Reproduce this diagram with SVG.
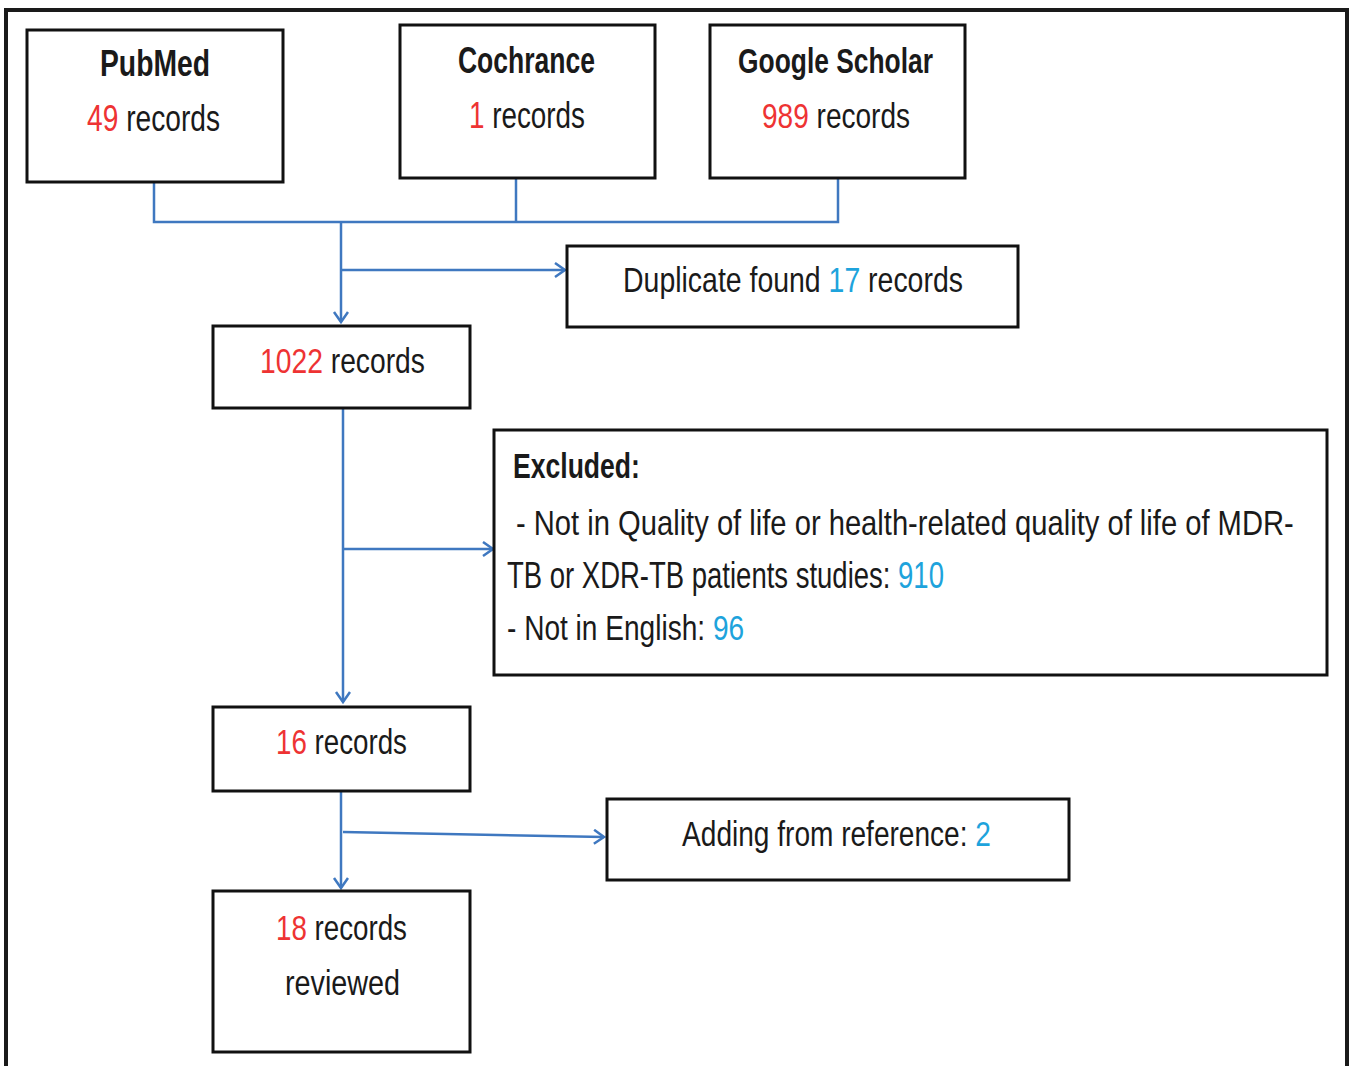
<svg xmlns="http://www.w3.org/2000/svg" width="1352" height="1066" viewBox="0 0 1352 1066">
<style>
.box{fill:#fff;stroke:#111;stroke-width:3}
.t{font-family:"Liberation Sans",Arial,sans-serif;font-size:36px;fill:#1a1a1a}
.m{text-anchor:middle}
.b{font-weight:bold}
.r{fill:#ee3333}
.c{fill:#1ea3dc}
.ln{fill:none;stroke:#3f78c0;stroke-width:2.5}
</style>
<defs>
<marker id="ah" markerUnits="userSpaceOnUse" markerWidth="20" markerHeight="20" refX="12" refY="8" orient="auto">
<path d="M2,1 L12,8 L2,15" fill="none" stroke="#3f78c0" stroke-width="2.5"/>
</marker>
</defs>
<rect x="0" y="0" width="1352" height="1066" fill="#fff"/>
<rect x="6" y="10" width="1341" height="1070" fill="none" stroke="#1a1a1a" stroke-width="4"/>
<g id="connectors">
<polyline class="ln" points="154,172 154,222 838,222 838,175"/>
<line class="ln" x1="516" y1="178" x2="516" y2="222"/>
<line class="ln" x1="341" y1="222" x2="341" y2="322" marker-end="url(#ah)"/>
<line class="ln" x1="341" y1="270" x2="565" y2="270" marker-end="url(#ah)"/>
<line class="ln" x1="343" y1="408" x2="343" y2="702" marker-end="url(#ah)"/>
<line class="ln" x1="343" y1="549" x2="493" y2="549" marker-end="url(#ah)"/>
<line class="ln" x1="341" y1="791" x2="341" y2="888" marker-end="url(#ah)"/>
<line class="ln" x1="343" y1="832" x2="604" y2="837" marker-end="url(#ah)"/>
</g>
<g id="pubmed">
<rect class="box" x="27" y="30" width="256" height="152"/>
<text class="t b m" transform="translate(155,76) scale(0.786,1)">PubMed</text>
<text class="t m" transform="translate(153.5,131) scale(0.782,1)"><tspan class="r">49</tspan> records</text>
</g>
<g id="cochrance">
<rect class="box" x="400" y="25" width="255" height="153"/>
<text class="t b m" transform="translate(526.5,73) scale(0.737,1)">Cochrance</text>
<text class="t m" transform="translate(527,128) scale(0.773,1)"><tspan class="r">1</tspan> records</text>
</g>
<g id="scholar">
<rect class="box" x="710" y="25" width="255" height="153"/>
<text class="t b m" transform="translate(835.5,73) scale(0.733,1)">Google Scholar</text>
<text class="t m" transform="translate(836,128) scale(0.779,1)"><tspan class="r">989</tspan> records</text>
</g>
<g id="duplicate">
<rect class="box" x="567" y="246" width="451" height="81"/>
<text class="t m" transform="translate(793,292) scale(0.79,1)">Duplicate found <tspan class="c">17</tspan> records</text>
</g>
<g id="r1022">
<rect class="box" x="213" y="326" width="257" height="82"/>
<text class="t m" transform="translate(342.5,373) scale(0.785,1)"><tspan class="r">1022</tspan> records</text>
</g>
<g id="excluded">
<rect class="box" x="494" y="430" width="833" height="245"/>
<text class="t b" transform="translate(513,478) scale(0.738,1)">Excluded:</text>
<text class="t" transform="translate(516,535) scale(0.81,1)">- Not in Quality of life or health-related quality of life of MDR-</text>
<text class="t" transform="translate(507,588) scale(0.764,1)">TB or XDR-TB patients studies: <tspan class="c">910</tspan></text>
<text class="t" transform="translate(507,640) scale(0.78,1)">- Not in English: <tspan class="c">96</tspan></text>
</g>
<g id="r16">
<rect class="box" x="213" y="707" width="257" height="84"/>
<text class="t m" transform="translate(341.5,754) scale(0.77,1)"><tspan class="r">16</tspan> records</text>
</g>
<g id="adding">
<rect class="box" x="607" y="799" width="462" height="81"/>
<text class="t m" transform="translate(836.5,846) scale(0.78,1)">Adding from reference: <tspan class="c">2</tspan></text>
</g>
<g id="r18">
<rect class="box" x="213" y="891" width="257" height="161"/>
<text class="t m" transform="translate(341.5,940) scale(0.77,1)"><tspan class="r">18</tspan> records</text>
<text class="t m" transform="translate(342.5,995) scale(0.8,1)">reviewed</text>
</g>
</svg>
